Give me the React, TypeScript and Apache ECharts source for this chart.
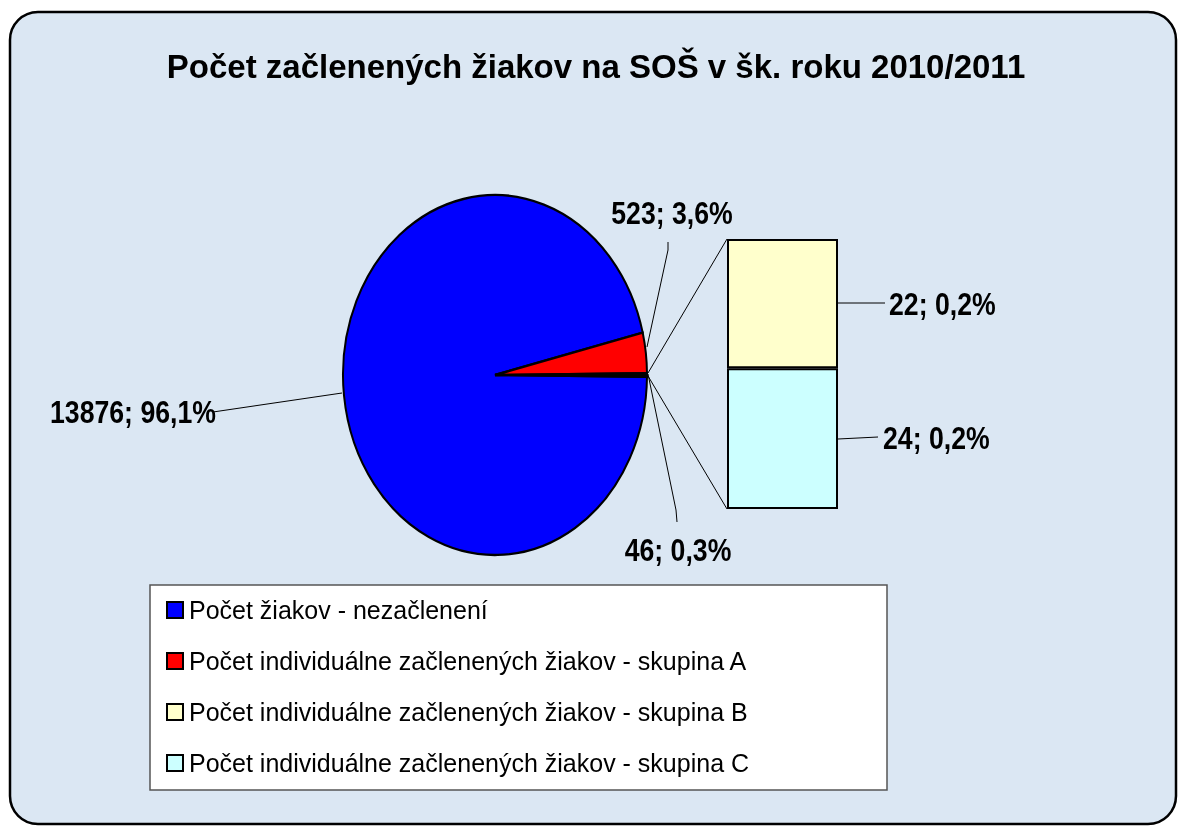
import React, { useEffect, useRef } from "react";
import * as echarts from "echarts";

const titleText = "Počet začlenených žiakov na SOŠ v šk. roku 2010/2011";
const legendNames = [
  "Počet žiakov - nezačlenení",
  "Počet individuálne začlenených žiakov - skupina A",
  "Počet individuálne začlenených žiakov - skupina B",
  "Počet individuálne začlenených žiakov - skupina C",
];
const legendColors = ["#0000ff", "#ff0000", "#ffffcc", "#ccffff"];
// pie: not included, group A
const pieValues = [13876, 523];
// bar (other): group B, group C
const barValues = [22, 24];

const otherValue = barValues.reduce((a, b) => a + b, 0);
const total = pieValues.reduce((a, b) => a + b, 0) + otherValue;
const fmt = (v: number) => `${v}; ${((v / total) * 100).toFixed(1).replace(".", ",")}%`;

const CX = 495, CY = 375, RX = 152, RY = 180;
const FONT = "'Liberation Sans', Arial, sans-serif";

export default function App() {
  const ref = useRef<HTMLDivElement>(null);
  useEffect(() => {
    if (!ref.current) return;
    const chart = echarts.init(ref.current, null, { renderer: "svg" });
    const pieAll = [pieValues[0], pieValues[1], otherValue];
    const pieColors = ["#0000ff", "#ff0000", "#000000"];
    const h = (otherValue / total) * Math.PI;
    const r = (pieValues[1] / total) * 2 * Math.PI;
    const mathStart = [h + r, h, -h];
    const mathEnd = [2 * Math.PI - h, h + r, h];

    const legendGraphics: any[] = [];
    legendNames.forEach((n, i) => {
      const y = 610 + i * 51;
      legendGraphics.push({
        type: "rect",
        shape: { x: 167, y: y - 8, width: 16, height: 16 },
        style: { fill: legendColors[i], stroke: "#000", lineWidth: 2 },
      });
      legendGraphics.push({
        type: "text",
        x: 189,
        y,
        style: {
          text: n,
          font: `25px ${FONT}`,
          fill: "#000",
          verticalAlign: "middle",
        },
      });
    });

    const label = (text: string, x: number, y: number, align: string) => ({
      type: "text",
      x,
      y,
      scaleX: 0.86,
      style: {
        text,
        font: `bold 31px ${FONT}`,
        fill: "#000",
        align,
        verticalAlign: "middle",
      },
    });
    const ln = (pts: number[][]) => ({
      type: "polyline",
      shape: { points: pts },
      style: { stroke: "#000", lineWidth: 1, fill: null },
    });

    chart.setOption({
      animation: false,
      graphic: [
        {
          type: "rect",
          z: -10,
          shape: { x: 10, y: 12, width: 1166, height: 812, r: 28 },
          style: { fill: "#dbe7f3", stroke: "#000", lineWidth: 2.5 },
        },
        {
          type: "text",
          x: 596,
          y: 66,
          style: {
            text: titleText,
            font: `bold 33px ${FONT}`,
            fill: "#000",
            align: "center",
            verticalAlign: "middle",
          },
        },
        {
          type: "rect",
          shape: { x: 150, y: 585, width: 737, height: 205 },
          style: { fill: "#ffffff", stroke: "#555", lineWidth: 1.5 },
        },
        ...legendGraphics,
        // connector lines from pie to bar
        ln([[648, 373], [727, 239]]),
        ln([[648, 376], [727, 509]]),
        // leader lines
        ln([[213, 412], [342, 393]]),
        ln([[668, 242], [668, 250], [647, 347]]),
        ln([[648, 374], [676, 510], [677, 522]]),
        ln([[838, 303], [885, 303]]),
        ln([[838, 439], [878, 437]]),
        label(fmt(pieValues[0]), 50, 412, "left"),
        label(fmt(pieValues[1]), 672, 213, "center"),
        label(fmt(otherValue), 678, 550, "center"),
        label(fmt(barValues[0]), 889, 304, "left"),
        label(fmt(barValues[1]), 883, 438, "left"),
      ],
      grid: { left: 727, top: 239, width: 111, height: 270 },
      xAxis: { type: "category", data: ["other"], show: false },
      yAxis: { type: "value", min: 0, max: otherValue, show: false },
      series: [
        {
          type: "custom",
          coordinateSystem: "none",
          data: pieAll,
          renderItem: (params: any) => {
            const i = params.dataIndex;
            return {
              type: "group",
              x: CX,
              y: CY,
              scaleX: 1,
              scaleY: RY / RX,
              children: [
                {
                  type: "sector",
                  shape: {
                    cx: 0,
                    cy: 0,
                    r0: 0,
                    r: RX,
                    startAngle: -mathEnd[i],
                    endAngle: -mathStart[i],
                    clockwise: true,
                  },
                  style: { fill: pieColors[i], stroke: "#000", lineWidth: 2 },
                },
              ],
            };
          },
        },
        {
          type: "bar",
          name: legendNames[3],
          stack: "other",
          barWidth: "100%",
          data: [barValues[1]],
          itemStyle: { color: legendColors[3], borderColor: "#000", borderWidth: 2 },
        },
        {
          type: "bar",
          name: legendNames[2],
          stack: "other",
          barWidth: "100%",
          data: [barValues[0]],
          itemStyle: { color: legendColors[2], borderColor: "#000", borderWidth: 2 },
        },
      ],
    });
    return () => chart.dispose();
  }, []);
  return (
    <div
      ref={ref}
      style={{ position: "fixed", left: 0, top: 0, width: 1180, height: 827 }}
    />
  );
}
